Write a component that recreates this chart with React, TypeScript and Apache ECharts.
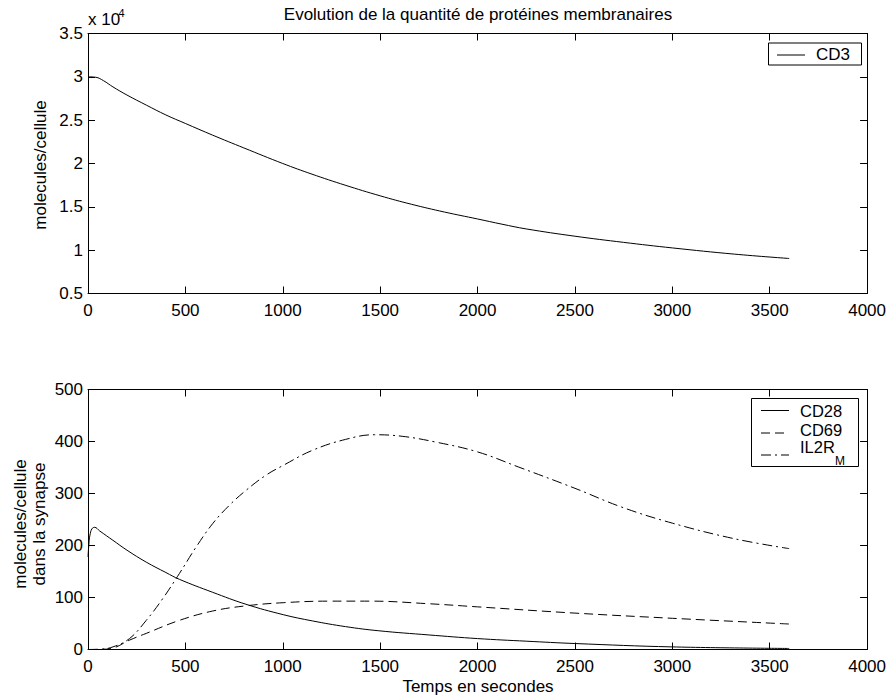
import React, { useEffect, useRef } from "react";
import * as echarts from "echarts";

const FONT = "'Liberation Sans', Arial, Helvetica, sans-serif";

// Top panel: CD3 (molecules/cellule)
const cd3Time = [0, 40, 80, 128, 200, 300, 400, 500, 640, 800, 1000, 1150, 1320, 1500, 1660, 1830, 2000, 2125, 2250, 2500, 2750, 3000, 3320, 3600];
const cd3Values = [30000, 29950, 29550, 28840, 27900, 26730, 25600, 24620, 23270, 21800, 20000, 18770, 17500, 16270, 15300, 14400, 13600, 13000, 12450, 11610, 10900, 10260, 9540, 9040];

// Bottom panel
const cd28Time = [0, 5, 10, 20, 34, 60, 128, 200, 299, 400, 469, 640, 811, 1002, 1152, 1322, 1493, 1750, 2000, 2250, 2500, 3000, 3600];
const cd28Values = [178, 205, 220, 232, 235, 228, 210, 191, 168, 148, 135, 110, 87, 67, 55, 44, 36, 28, 21, 16, 11.5, 5, 2];

const cd69Time = [0, 60, 120, 213, 299, 469, 640, 811, 1002, 1237, 1450, 1750, 2000, 2500, 3000, 3600];
const cd69Values = [0, 0.3, 2, 18, 31, 56, 74, 84, 90, 93, 93, 88, 82, 70, 60, 49];

const il2rTime = [0, 60, 128, 213, 299, 384, 469, 555, 640, 725, 811, 913, 1002, 1152, 1322, 1470, 1613, 1784, 2000, 2210, 2500, 2739, 3000, 3319, 3600];
const il2rValues = [0, 0.5, 5, 21, 56, 98, 146, 197, 242, 277, 306, 335, 354, 383, 404, 413, 410, 399, 380, 351, 310, 274, 243, 213, 194];

const xTicks = { min: 0, max: 4000, interval: 500 };
const topY = { min: 5000, max: 35000, interval: 5000 };
const botY = { min: 0, max: 500, interval: 100 };

const pairs = (t: number[], v: number[]) => t.map((x, i) => [x, v[i]]);

export default function App() {
  const ref = useRef<HTMLDivElement>(null);
  useEffect(() => {
    if (!ref.current) return;
    const chart = echarts.init(ref.current, undefined, { renderer: "svg" });
    const axisLine = { show: true, onZero: false, lineStyle: { color: "#000", width: 1 } };
    const tick = { show: true, inside: true, length: 7, lineStyle: { color: "#000", width: 1 } };
    const label = { color: "#000", fontSize: 17, fontFamily: FONT };
    const mkX = (grid: number, pos: "bottom" | "top", showLabel: boolean) => ({
      type: "value",
      gridIndex: grid,
      position: pos,
      ...xTicks,
      axisLine,
      axisTick: tick,
      splitLine: { show: false },
      axisLabel: { show: showLabel, ...label, margin: 8, showMinLabel: true, showMaxLabel: true, formatter: (v: number) => String(v) },
    });
    const mkY = (grid: number, pos: "left" | "right", showLabel: boolean, r: any, fmt: (v: number) => string) => ({
      type: "value",
      gridIndex: grid,
      position: pos,
      ...r,
      axisLine,
      axisTick: tick,
      splitLine: { show: false },
      axisLabel: { show: showLabel, ...label, margin: 5, showMinLabel: true, showMaxLabel: true, formatter: fmt },
    });
    const lineSeries = (name: string, data: number[][], xi: number, yi: number, type: any) => ({
      name,
      type: "line",
      xAxisIndex: xi,
      yAxisIndex: yi,
      data,
      symbol: "none",
      showSymbol: false,
      smooth: 0.4,
      lineStyle: { color: "#000", width: 1, type },
      itemStyle: { color: "#000" },
    });
    const txt = (x: number, y: number, text: string, size: number, align = "left", extra: any = {}) => ({
      type: "text",
      x,
      y,
      z: 100,
      ...extra,
      style: { text, fill: "#000", font: `${size}px ${FONT}`, textAlign: align, textVerticalAlign: "middle", ...(extra.style || {}) },
    });
    const seg = (x1: number, x2: number, y: number, lineDash: any) => ({
      type: "line",
      z: 100,
      shape: { x1, y1: y, x2, y2: y },
      style: { stroke: "#000", lineWidth: 1, lineDash },
    });
    const plain = (v: number) => String(v);
    chart.setOption({
      animation: false,
      backgroundColor: "#fff",
      grid: [
        { left: 88, top: 33.5, width: 780, height: 260 },
        { left: 88, top: 389.5, width: 780, height: 260 },
      ],
      xAxis: [mkX(0, "bottom", true), mkX(0, "top", false), mkX(1, "bottom", true), mkX(1, "top", false)],
      yAxis: [
        mkY(0, "left", true, topY, (v: number) => String(v / 10000)),
        mkY(0, "right", false, topY, plain),
        mkY(1, "left", true, botY, plain),
        mkY(1, "right", false, botY, plain),
      ],
      series: [
        lineSeries("CD3", pairs(cd3Time, cd3Values), 0, 0, "solid"),
        lineSeries("CD28", pairs(cd28Time, cd28Values), 2, 2, "solid"),
        lineSeries("CD69", pairs(cd69Time, cd69Values), 2, 2, [9, 5]),
        lineSeries("IL2RM", pairs(il2rTime, il2rValues), 2, 2, [10, 4, 2, 4]),
      ],
      graphic: [
        txt(478, 14.5, "Evolution de la quantité de protéines membranaires", 17, "center"),
        txt(88, 19.7, "x 10", 17, "left"),
        txt(118.5, 13.3, "4", 11, "left"),
        txt(478, 686, "Temps en secondes", 17, "center"),
        txt(40.5, 165, "molecules/cellule", 17, "center", { rotation: Math.PI / 2 }),
        txt(30, 524, "molecules/cellule\ndans la synapse", 17, "center", { rotation: Math.PI / 2, style: { lineHeight: 19 } }),
        // Top legend
        { type: "rect", z: 99, shape: { x: 768.5, y: 43, width: 93, height: 22 }, style: { fill: "#fff", stroke: "#000", lineWidth: 1 } },
        seg(777, 805, 55, null),
        txt(816, 54.5, "CD3", 17, "left"),
        // Bottom legend
        { type: "rect", z: 99, shape: { x: 751.5, y: 398.5, width: 107, height: 68 }, style: { fill: "#fff", stroke: "#000", lineWidth: 1 } },
        seg(761, 789, 410.5, null),
        seg(761, 789, 433, [9, 5]),
        seg(761, 789, 455, [10, 4, 2, 4]),
        txt(800, 411, "CD28", 16.5, "left"),
        txt(800, 430, "CD69", 16.5, "left"),
        txt(800, 447, "IL2R", 16.5, "left"),
        txt(835, 461, "M", 12, "left"),
      ],
    });
    return () => chart.dispose();
  }, []);
  return <div ref={ref} style={{ position: "fixed", left: 0, top: 0, width: 889, height: 696, background: "#fff" }} />;
}
